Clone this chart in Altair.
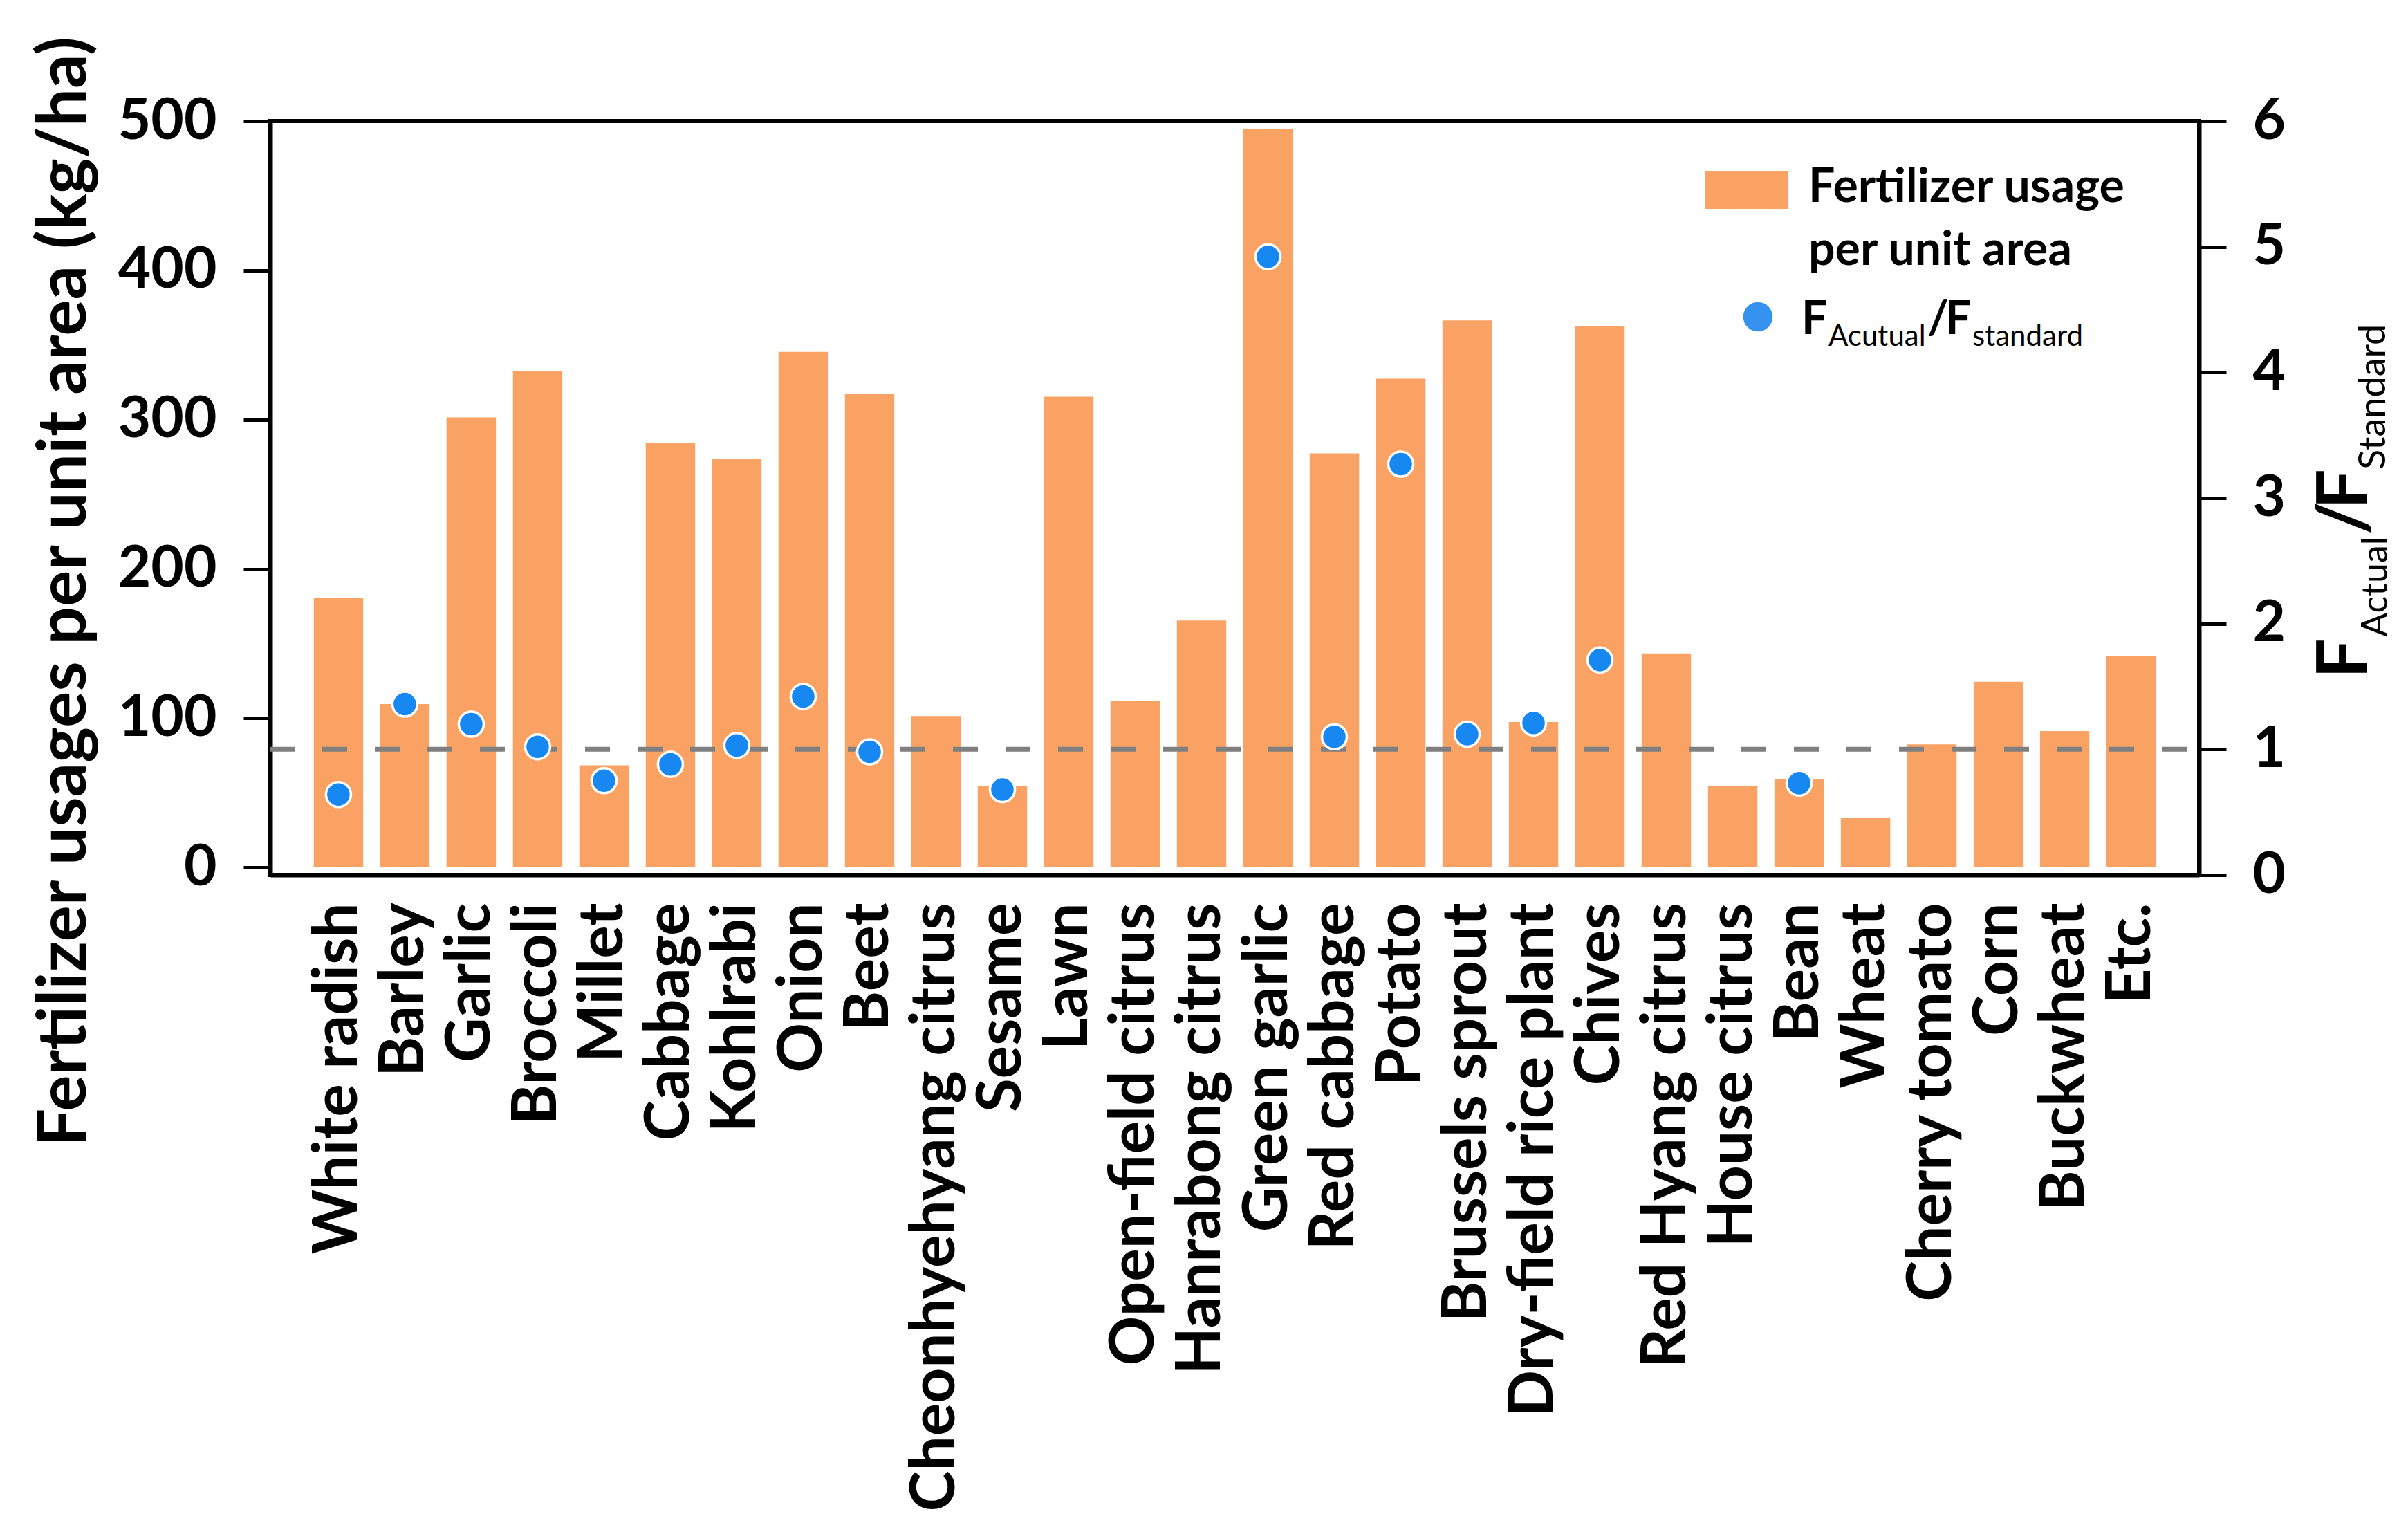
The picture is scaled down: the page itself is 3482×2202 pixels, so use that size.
import altair as alt
import pandas as pd

categories = ["White radish", "Barley", "Garlic", "Broccoli", "Millet", "Cabbage",
              "Kohlrabi", "Onion", "Beet", "Cheonhyehyang citrus", "Sesame", "Lawn",
              "Open-field citrus", "Hanrabong citrus", "Green garlic", "Red cabbage",
              "Potato", "Brussels sprout", "Dry-field rice plant", "Chives",
              "Red Hyang citrus", "House citrus", "Bean", "Wheat", "Cherry tomato",
              "Corn", "Buckwheat", "Etc."]
usage = [181, 110, 302, 333, 69, 285, 274, 346, 318, 102, 55, 316,
         112, 166, 495, 278, 328, 367, 98, 363, 144, 55, 60, 34, 83,
         125, 92, 142]
ratio = [0.64, 1.36, 1.20, 1.02, 0.75, 0.88, 1.03, 1.42, 0.98, None, 0.68, None,
         None, None, 4.92, 1.10, 3.27, 1.12, 1.21, 1.71, None, None, 0.73, None,
         None, None, None, None]
left_ticks = [0, 100, 200, 300, 400, 500]
right_ticks = [0, 1, 2, 3, 4, 5, 6]
reference_ratio = 1

df = pd.DataFrame({"crop": categories, "usage": usage, "ratio": ratio})

W, H = 2789, 1090
FONT = "Lato"
BAR_COLOR = "#F9A264"
DOT_COLOR = "#1787F2"

x_enc = alt.X(
    "crop:N", sort=categories,
    scale=alt.Scale(paddingInner=0.23, paddingOuter=0.64),
    axis=alt.Axis(title=None, labelAngle=270, labelAlign="right", labelBaseline="middle",
                  labelPadding=40, ticks=False, tickSize=0, domainWidth=6,
                  domainColor="black", labelFont=FONT, labelFontWeight="bold",
                  labelFontSize=89, labelColor="black", labelLimit=3000,
                  labelOverlap=False, grid=False),
)

bars = alt.Chart(df).mark_bar(color=BAR_COLOR, stroke="white", strokeWidth=2.5).encode(
    x=x_enc,
    y=alt.Y("usage:Q",
            scale=alt.Scale(domain=[-5, 500], nice=False, zero=False),
            axis=alt.Axis(values=left_ticks, orient="left", grid=False, format="d",
                          title="Fertilizer usages per unit area (kg/ha)",
                          titleFont=FONT, titleFontWeight="bold", titleFontSize=98,
                          titleColor="black", titleAngle=270, titleX=-268, titleY=680,
                          titleAlign="center", titleBaseline="alphabetic",
                          tickSize=39, tickWidth=5, tickColor="black",
                          domainWidth=6, domainColor="black", labelPadding=39,
                          labelFont=FONT, labelFontWeight="bold", labelFontSize=82,
                          labelColor="black")),
    y2=alt.datum(0),
)

rule = alt.Chart(alt.Data(values=[{}])).mark_rule(
    color="#7f7f7f", strokeWidth=7, strokeDash=[36, 40], strokeDashOffset=-18
).encode(y=alt.datum(reference_ratio))

points = alt.Chart(df).mark_circle(size=1300, color=DOT_COLOR, stroke="white",
                                   strokeWidth=3.5, opacity=1).encode(
    x=x_enc,
    y=alt.Y("ratio:Q",
            scale=alt.Scale(domain=[0, 6], nice=False),
            axis=alt.Axis(values=right_ticks, orient="right", title=None, grid=False,
                          format="d", tickSize=39, tickWidth=5, tickColor="black",
                          domainWidth=6, domainColor="black", labelPadding=38,
                          labelFont=FONT, labelFontWeight="bold", labelFontSize=82,
                          labelColor="black")),
)


def txt(s, x, y, size, weight="bold", angle=0):
    return alt.Chart(alt.Data(values=[{}])).mark_text(
        text=s, font=FONT, fontSize=size, fontWeight=weight, align="left",
        baseline="alphabetic", angle=angle, color="black"
    ).encode(x=alt.value(x), y=alt.value(y))


legend_rect = alt.Chart(alt.Data(values=[{}])).mark_rect(color=BAR_COLOR).encode(
    x=alt.value(2075), x2=alt.value(2194), y=alt.value(72), y2=alt.value(127))
legend_dot = alt.Chart(alt.Data(values=[{}])).mark_circle(
    size=1810, color="#3592F0", opacity=1).encode(x=alt.value(2151), y=alt.value(283))

legend_parts = [
    legend_rect, legend_dot,
    txt("Fertilizer usage", 2224, 117, 68),
    txt("per unit area", 2224, 208, 68),
    txt("F", 2214, 308, 66),
    txt("Acutual", 2253, 325, 42, weight="normal"),
    txt("/", 2396, 308, 66),
    txt("F", 2422, 308, 66),
    txt("standard", 2461, 325, 42, weight="normal"),
]

right_title = [
    txt("F", 3032, 806, 102, angle=270),
    txt("Actual", 3061, 746, 52, weight="normal", angle=270),
    txt("/", 3032, 598, 102, angle=270),
    txt("F", 3032, 561, 102, angle=270),
    txt("Standard", 3058, 504, 54, weight="normal", angle=270),
]

right_layer = alt.layer(rule, points)

chart = alt.layer(bars, right_layer, *legend_parts, *right_title).resolve_scale(
    y="independent"
).properties(
    width=W, height=H,
    padding={"left": 383, "top": 167, "right": 290, "bottom": 928},
    autosize=alt.AutoSizeParams(type="none"),
    background="white",
).configure_view(stroke="black", strokeWidth=6)

chart.save("out.html", embed_options={"renderer": "svg", "actions": False})
